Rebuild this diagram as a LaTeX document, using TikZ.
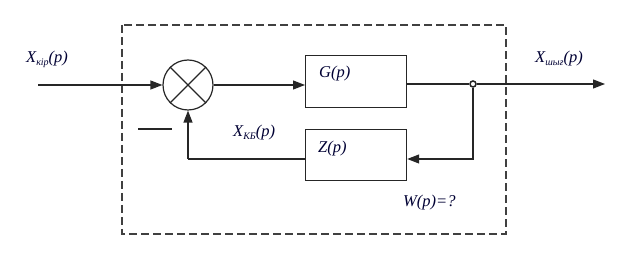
\documentclass[tikz,border=0pt]{standalone}
\usepackage{fontspec}
\setmainfont{Liberation Serif}
\usetikzlibrary{arrows.meta}
\newcommand{\subcyr}[1]{\raisebox{-0.35ex}{\fontsize{10}{12}\selectfont #1}}
\begin{document}
\begin{tikzpicture}[x=1pt,y=-1pt,
  line/.style={line width=1.2pt,draw=black!85},
  arr/.style={line,-{Triangle[length=12pt,width=9pt]}},
  blk/.style={draw=black!85,line width=1.2pt,minimum width=101pt,inner sep=0pt,anchor=north west},
  lbl/.style={font=\fontsize{16.5}{19}\selectfont\itshape,text=black!80!blue,inner sep=0pt,anchor=base west}]
\useasboundingbox (0,0) rectangle (642,261);
% dashed frame
\draw[line width=1.1pt,draw=black!75,dash pattern=on 8pt off 4pt] (122,25) rectangle (506,234);
% blocks
\node[blk,minimum height=52pt] (G) at (305,55) {};
\node[blk,minimum height=51pt] (Z) at (305,129) {};
% summing junction
\node[draw=black!85,line width=1.2pt,circle,minimum size=50pt,inner sep=0pt] (S) at (188,85) {};
\draw[line] (S.north west) -- (S.south east);
\draw[line] (S.north east) -- (S.south west);
% branch point
\node[draw=black!85,line width=1.5pt,circle,minimum size=6pt,inner sep=0pt] (J) at (473,84) {};
\coordinate (in) at (38,85);
\coordinate (out) at (605,84);
\coordinate (fbr) at (473,159);
\coordinate (fbl) at (188,159);
\coordinate (m1) at (138,129);
\coordinate (m2) at (172,129);
% connectors
\draw[arr] (in) -- (S.west);
\draw[arr] (S.east) -- (S.east -| G.west);
\draw[line] (G.east |- J) -- (J);
\draw[arr] (J) -- (out);
\draw[arr] (J) -- (fbr) -- (fbr -| Z.east);
\draw[line] (fbr -| Z.west) -- (fbl);
\draw[arr] (fbl) -- (S.south);
\draw[line] (m1) -- (m2);
% labels
\node[lbl] (lin) at (26,63) {X\subcyr{кір}(p)};
\node[lbl] (lkb) at (233,137) {X\subcyr{КБ}(p)};
\node[lbl] (lout) at (535,63) {X\subcyr{шығ}(p)};
\node[lbl] (lG) at (319,78) {G(p)};
\node[lbl] (lZ) at (318,153) {Z(p)};
\node[lbl] (lW) at (403,207) {W(p)=?};
\end{tikzpicture}
\end{document}
